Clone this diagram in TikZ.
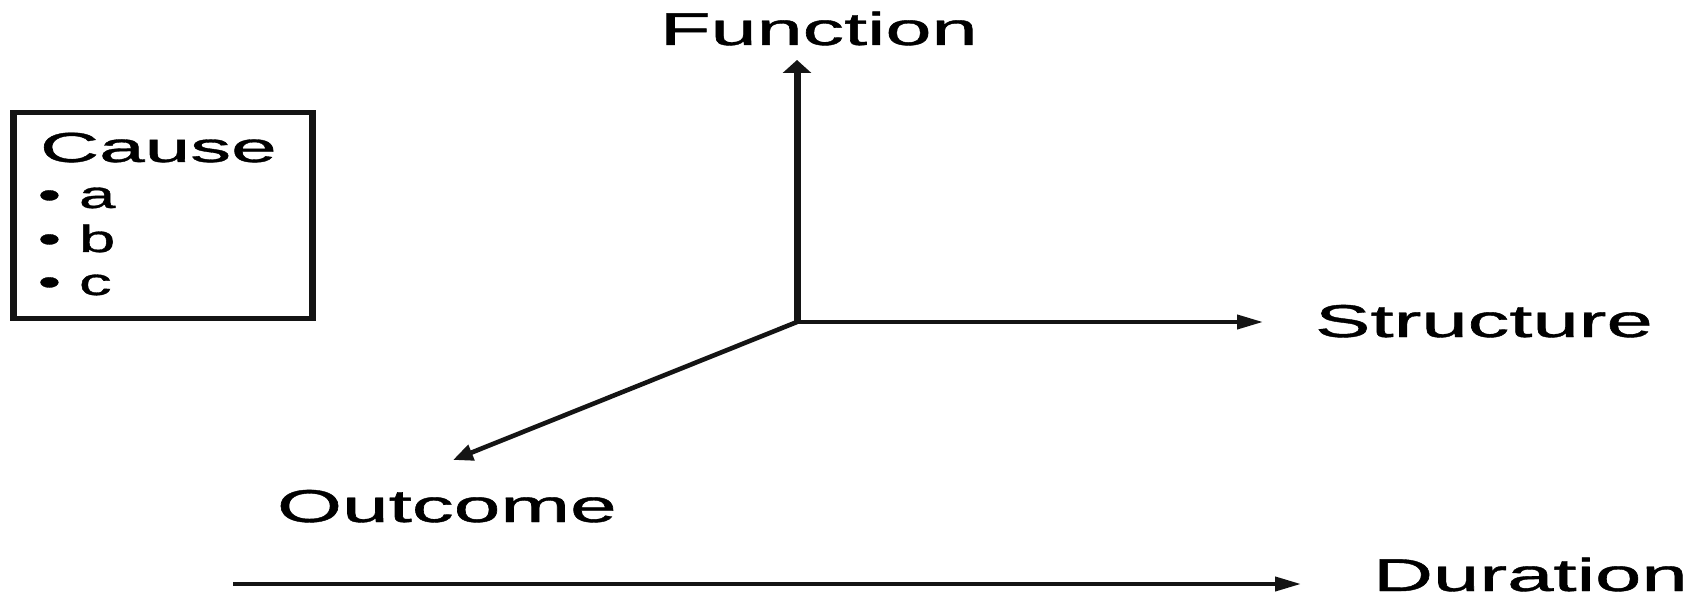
\documentclass[tikz,border=0pt]{standalone}
\usepackage{fontspec}
\setmainfont{Liberation Sans}
\newfontfamily\lblfont{Liberation Sans}[FakeBold=0.8]
\usepackage{graphicx}
\usetikzlibrary{arrows.meta}
\newcommand{\wlbl}[3]{\scalebox{#2}[1]{\lblfont\fontsize{#1}{#1}\selectfont #3}}
\tikzset{
  lbl/.style={anchor=base west, inner sep=0pt, outer sep=0pt},
  axis/.style={line width=4pt, draw=black!92},
  vaxis/.style={line width=7pt, draw=black!92},
  daxis/.style={line width=4.6pt, draw=black!92},
  harrow/.style={-{Triangle[length=26pt,width=14pt]}},
  varrow/.style={-{Triangle[length=13pt,width=28pt]}},
  darrow/.style={-{Triangle[length=20pt,width=16pt]}},
  boxedge/.style={fill=black!92}
}
\begin{document}
\begin{tikzpicture}[x=1pt,y=1pt]
\useasboundingbox[fill=white] (0,0) rectangle (1702,598);
% legend box
\fill[boxedge] (9.5,277.5) rectangle (315.5,488);
\fill[white] (16.5,282.5) rectangle (308.5,483);
\node[lbl] (cause) at (40,436) {\wlbl{42pt}{1.95}{Cause}};
\node[lbl] (ia) at (38,390) {\wlbl{38pt}{1.72}{\textbullet\ a}};
\node[lbl] (ib) at (38,346) {\wlbl{38pt}{1.72}{\textbullet\ b}};
\node[lbl] (ic) at (38,303) {\wlbl{38pt}{1.72}{\textbullet\ c}};
% axes
\coordinate (o) at (797,276);
\coordinate (ftip) at (797,538);
\coordinate (stip) at (1263,276);
\coordinate (otip) at (453,138);
\coordinate (dstart) at (233,14);
\coordinate (dtip) at (1301,14);
\draw[daxis, darrow] (o) -- (otip);
\draw[axis, harrow] ([xshift=-3pt]o) -- (stip);
\draw[vaxis, varrow] ([yshift=-2pt]o) -- (ftip);
\draw[axis, harrow] (dstart) -- (dtip);
% labels
\node[lbl] (function) at (660,553) {\wlbl{46pt}{1.80}{Function}};
\node[lbl] (structure) at (1315,261) {\wlbl{46pt}{1.81}{Structure}};
\node[lbl] (outcome) at (277,76) {\wlbl{46pt}{1.82}{Outcome}};
\node[lbl] (duration) at (1373,7) {\wlbl{46pt}{1.81}{Duration}};
\end{tikzpicture}
\end{document}
